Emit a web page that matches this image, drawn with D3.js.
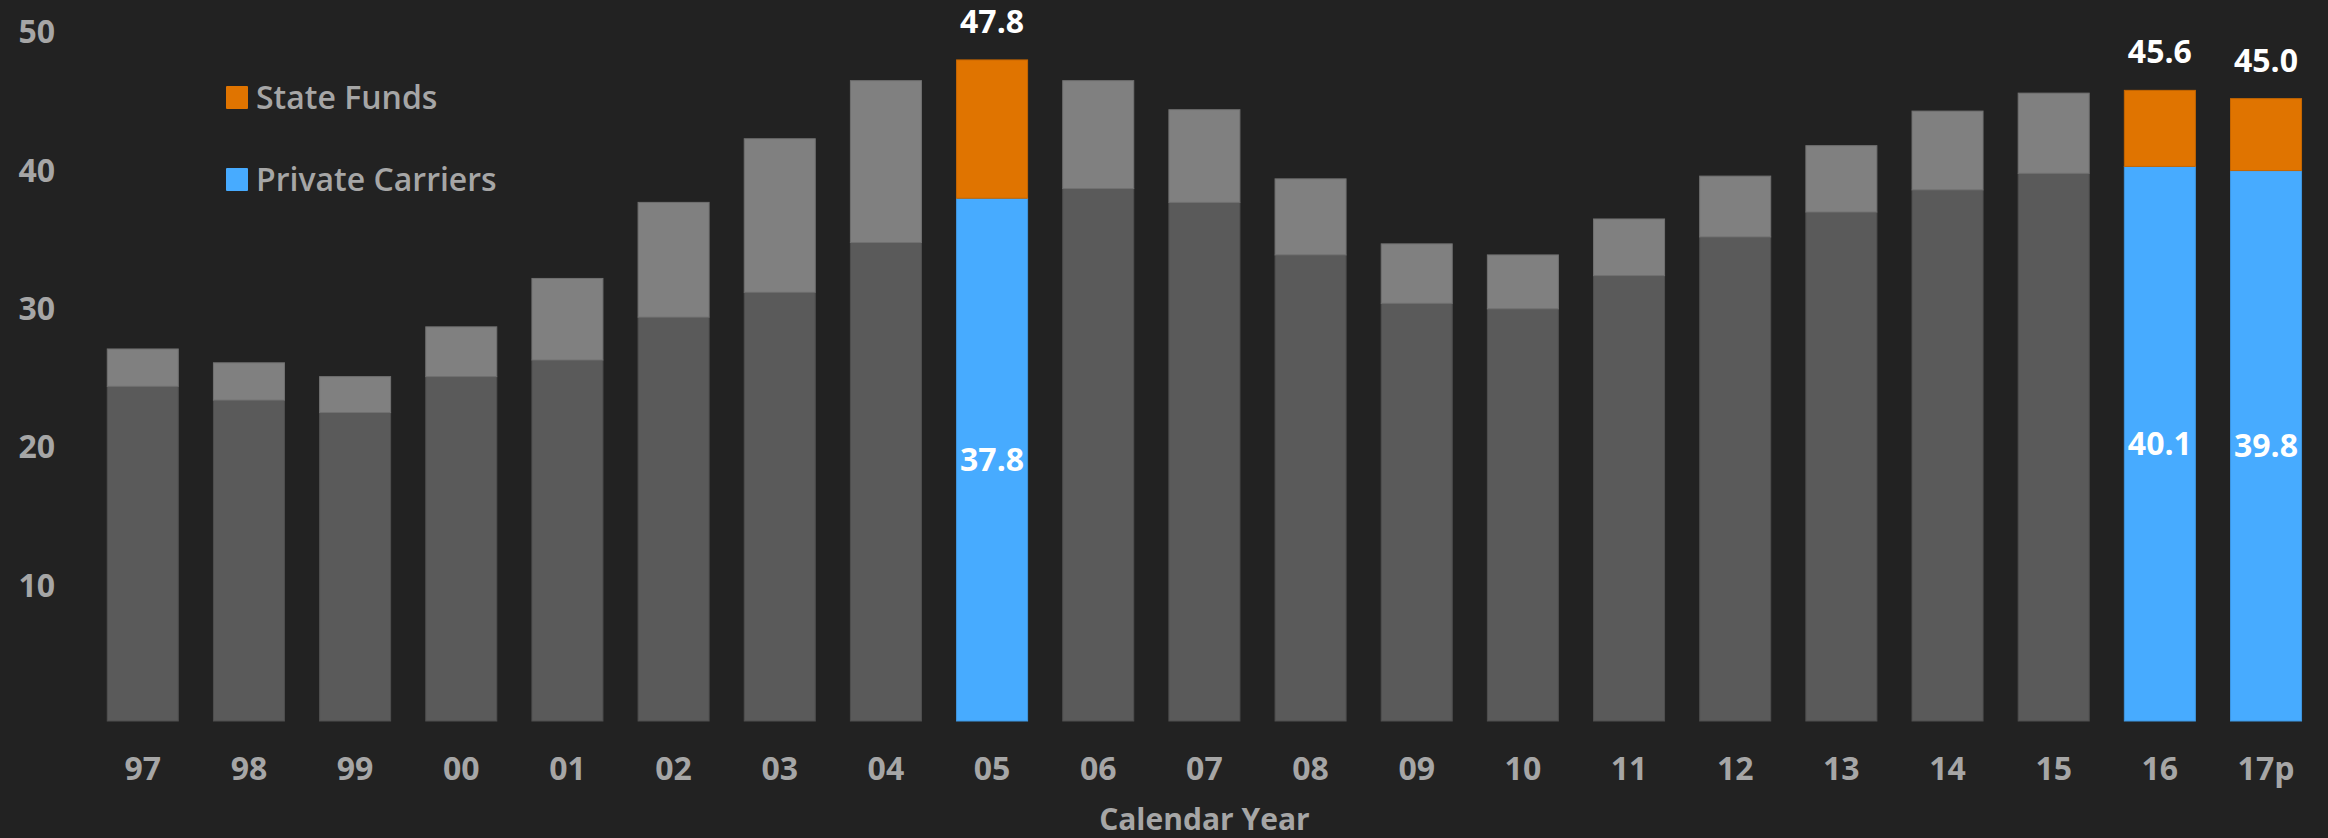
<!DOCTYPE html>
<html>
<head>
<meta charset="utf-8">
<script src="https://cdn.jsdelivr.net/npm/d3@7"></script>
<style>
  html, body { margin: 0; padding: 0; background: #222222; }
  svg { display: block; }
  text { font-family: "Open Sans", "Noto Sans", sans-serif; }
</style>
</head>
<body>
<svg id="chart" width="2328" height="838"></svg>
<script>
// ---- data ----
const years = ["97","98","99","00","01","02","03","04","05","06","07","08","09","10","11","12","13","14","15","16","17p"];
const privateCarriers = [24.2, 23.2, 22.3, 24.9, 26.1, 29.2, 31.0, 34.6, 37.8, 38.5, 37.5, 33.7, 30.2, 29.8, 32.2, 35.0, 36.8, 38.4, 39.6, 40.1, 39.8];
const stateFunds      = [2.7, 2.7, 2.6, 3.6, 5.9, 8.3, 11.1, 11.7, 10.0, 7.8, 6.7, 5.5, 4.3, 3.9, 4.1, 4.4, 4.8, 5.7, 5.8, 5.5, 5.2];
const highlighted = ["05", "16", "17p"];
const yTicks = [10, 20, 30, 40, 50];
const seriesNames = ["State Funds", "Private Carriers"];
const xTitle = "Calendar Year";

// ---- styles ----
const BG = "#222222";
const ORANGE = "#E07400";
const BLUE = "#47ABFF";
const GRAY_TOP = "#808080";
const GRAY_BOTTOM = "#5A5A5A";
const LABEL_GRAY = "#A6A6A6";

const svg = d3.select("#chart");
svg.append("rect").attr("width", 2328).attr("height", 838).attr("fill", BG);

const x = d3.scaleBand()
  .domain(years)
  .range([89.7, 2319.1])
  .paddingInner(0.331)
  .paddingOuter(0.1655);

const y = d3.scaleLinear().domain([0, 50]).range([721, 29.5]);

const rows = years.map((yr, i) => ({
  year: yr,
  priv: privateCarriers[i],
  state: stateFunds[i],
  total: +(privateCarriers[i] + stateFunds[i]).toFixed(1),
  hi: highlighted.includes(yr)
}));

const bars = svg.append("g");
// bottom segment (private carriers)
bars.selectAll("rect.bottom").data(rows).join("rect")
  .attr("class", "bottom")
  .attr("x", d => x(d.year))
  .attr("width", x.bandwidth())
  .attr("y", d => y(d.priv))
  .attr("height", d => y(0) - y(d.priv))
  .attr("fill", d => d.hi ? BLUE : GRAY_BOTTOM)
  .attr("stroke", d => d3.color(d.hi ? BLUE : GRAY_BOTTOM).darker(0.35))
  .attr("stroke-width", 1);
// top segment (state funds)
bars.selectAll("rect.top").data(rows).join("rect")
  .attr("class", "top")
  .attr("x", d => x(d.year))
  .attr("width", x.bandwidth())
  .attr("y", d => y(d.priv + d.state))
  .attr("height", d => y(d.priv) - y(d.priv + d.state))
  .attr("fill", d => d.hi ? ORANGE : GRAY_TOP)
  .attr("stroke", d => d3.color(d.hi ? ORANGE : GRAY_TOP).darker(0.35))
  .attr("stroke-width", 1);

// labels on highlighted bars
const hiRows = rows.filter(d => d.hi);
svg.append("g").selectAll("text").data(hiRows).join("text")
  .attr("x", d => x(d.year) + x.bandwidth() / 2)
  .attr("y", d => y(d.total) - 27)
  .attr("text-anchor", "middle")
  .attr("fill", "#FFFFFF")
  .attr("font-size", 32)
  .attr("font-weight", 700)
  .text(d => d.total.toFixed(1));
svg.append("g").selectAll("text").data(hiRows).join("text")
  .attr("x", d => x(d.year) + x.bandwidth() / 2)
  .attr("y", d => (y(0) + y(d.priv)) / 2)
  .attr("dy", "0.36em")
  .attr("text-anchor", "middle")
  .attr("fill", "#FFFFFF")
  .attr("font-size", 32)
  .attr("font-weight", 700)
  .text(d => d.priv.toFixed(1));

// y axis
const yAxis = svg.append("g")
  .attr("transform", "translate(55,0)")
  .call(d3.axisLeft(y).tickValues(yTicks).tickSize(0).tickPadding(0).tickFormat(d3.format("d")));
yAxis.select(".domain").remove();
yAxis.selectAll("text")
  .attr("fill", LABEL_GRAY)
  .attr("font-size", 32)
  .attr("font-weight", 700)
  .attr("font-family", "Open Sans, Noto Sans, sans-serif")
  .attr("dy", "0.42em");

// x axis
const xAxis = svg.append("g")
  .attr("transform", `translate(0,${y(0)})`)
  .call(d3.axisBottom(x).tickSize(0).tickPadding(36));
xAxis.select(".domain").remove();
xAxis.selectAll("text")
  .attr("fill", LABEL_GRAY)
  .attr("font-size", 32)
  .attr("font-weight", 700)
  .attr("font-family", "Open Sans, Noto Sans, sans-serif");

// x title
svg.append("text")
  .attr("x", (x.range()[0] + x.range()[1]) / 2)
  .attr("y", 830)
  .attr("text-anchor", "middle")
  .attr("fill", LABEL_GRAY)
  .attr("font-size", 30)
  .attr("font-weight", 700)
  .text(xTitle);

// legend
const legendColors = [ORANGE, BLUE];
const legend = svg.append("g");
const lg = legend.selectAll("g").data(seriesNames).join("g")
  .attr("transform", (d, i) => `translate(226, ${97 + i * 82})`);
lg.append("rect")
  .attr("x", 0).attr("y", -11)
  .attr("width", 22).attr("height", 23)
  .attr("rx", 1)
  .attr("fill", (d, i) => legendColors[i]);
lg.append("text")
  .attr("x", 30).attr("y", 0)
  .attr("dy", "0.36em")
  .attr("fill", LABEL_GRAY)
  .attr("font-size", 32)
  .attr("font-weight", 600)
  .text(d => d);
</script>
</body>
</html>
